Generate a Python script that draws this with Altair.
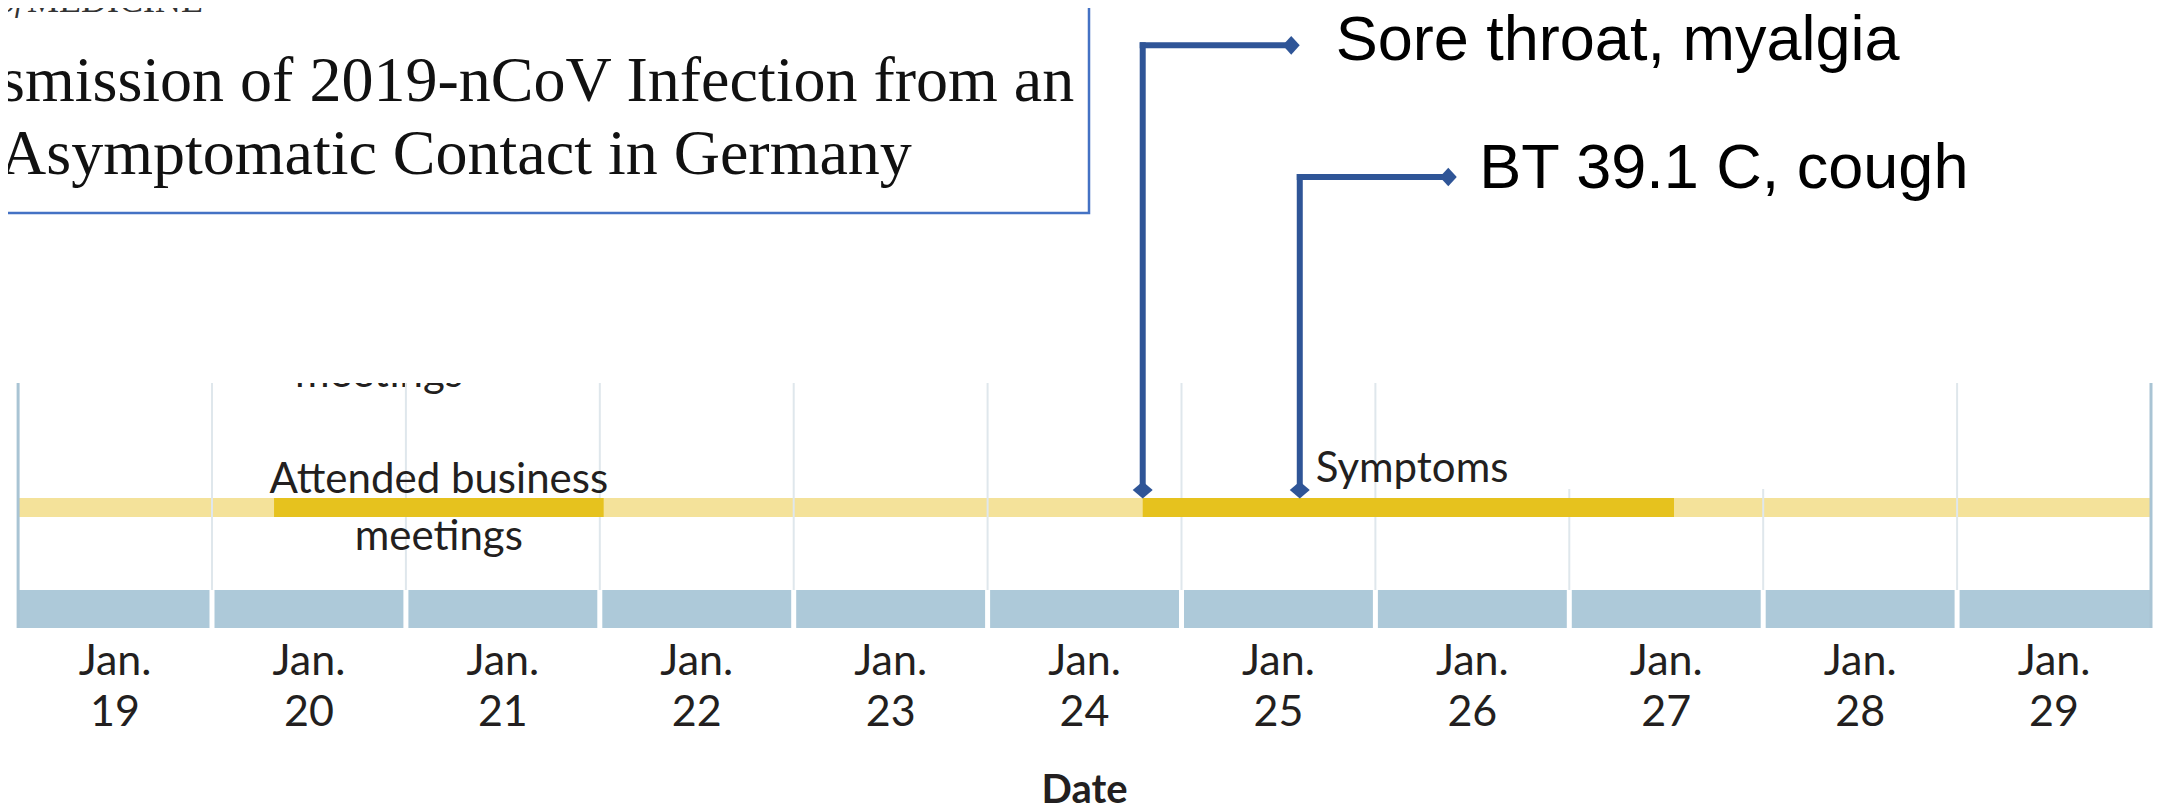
import altair as alt
import pandas as pd

# ------------------------------------------------------------------ data
days = list(range(19, 30))                       # Jan. 19 ... Jan. 29
month_label = "Jan."
period_labels = ["Attended business\nmeetings", "Symptoms"]
period_starts = [19.82, 24.30]                   # day of January
period_ends = [21.52, 27.04]
annotation_texts = ["Sore throat, myalgia", "BT 39.1 C, cough"]
annotation_days = [24.30, 25.11]
title_lines = ["smission of 2019-nCoV Infection from an", "Asymptomatic Contact in Germany"]
journal_text = "MEDICINE"
remnant_text = "meetings"
axis_title = "Date"

# ------------------------------------------------------------------ layout / style
W, H = 2146, 799
X_DOMAIN = [18.4479, 29.5155]
XS = alt.Scale(domain=X_DOMAIN, nice=False, zero=False)

DARK_Y = "#E6C21E"
LIGHT_Y = "#F4E29A"
BLUE_BAR = "#ADC9D9"
BORDER = "#A9C4D4"
GRID = "#DFE7EC"
ARROW = "#2F5597"
BOX = "#4472C4"
TXT = "#231F20"
LABEL_FONT = "Lato"

first, last = days[0] - 0.5, days[-1] + 0.5
boundaries = [d + 0.5 for d in days[:-1]]
short_bounds = [26.5, 27.5]

layers = []

# title box (annotation image)
one = pd.DataFrame({"k": [0]})
layers.append(
    alt.Chart(one).mark_rect(fillOpacity=0, stroke=BOX, strokeWidth=2.5, clip=True).encode(
        x=alt.value(-20), x2=alt.value(1081), y=alt.value(-20), y2=alt.value(205)
    )
)
layers.append(
    alt.Chart(pd.DataFrame({"t": [journal_text]})).mark_text(
        font="Liberation Serif", fontSize=36, align="left", baseline="alphabetic",
        color="#333333", clip=True
    ).encode(x=alt.value(19), y=alt.value(4), text="t:N")
)
layers.append(
    alt.Chart(pd.DataFrame({"t": ["of"]})).mark_text(
        font="Liberation Serif", fontSize=30, fontStyle="italic", align="right",
        baseline="alphabetic", color="#333333", clip=True
    ).encode(x=alt.value(15), y=alt.value(4), text="t:N")
)
layers.append(
    alt.Chart(pd.DataFrame({"t": ["\n".join(title_lines)]})).mark_text(
        font="Liberation Serif", fontSize=64, align="left", baseline="alphabetic",
        lineBreak="\n", lineHeight=73, color="#111111", clip=True
    ).encode(x=alt.value(-8), y=alt.value(93), text="t:N")
)

# cut-off label remnant at the top of the timeline panel
layers.append(
    alt.Chart(pd.DataFrame({"t": [remnant_text]})).mark_text(
        font=LABEL_FONT, fontSize=42, align="center", baseline="alphabetic", color=TXT
    ).encode(x=alt.value(371), y=alt.value(379), text="t:N")
)
layers.append(
    alt.Chart(one).mark_rect(color="white").encode(
        x=alt.value(260), x2=alt.value(490), y=alt.value(220), y2=alt.value(375)
    )
)

# timeline background
span = pd.DataFrame({"s": [first], "e": [last]})
layers.append(
    alt.Chart(span).mark_rect(color=LIGHT_Y).encode(
        x=alt.X("s:Q", scale=XS, axis=None), x2="e:Q", y=alt.value(490), y2=alt.value(509)
    )
)
# grid lines
full_b = [b for b in boundaries if b not in short_bounds]
layers.append(
    alt.Chart(pd.DataFrame({"b": full_b})).mark_rule(color=GRID, strokeWidth=2).encode(
        x=alt.X("b:Q", scale=XS, axis=None), y=alt.value(375), y2=alt.value(582)
    )
)
layers.append(
    alt.Chart(pd.DataFrame({"b": short_bounds})).mark_rule(color=GRID, strokeWidth=2).encode(
        x=alt.X("b:Q", scale=XS, axis=None), y=alt.value(481), y2=alt.value(582)
    )
)
# blue day bar with white separators
layers.append(
    alt.Chart(span).mark_rect(color=BLUE_BAR).encode(
        x=alt.X("s:Q", scale=XS, axis=None), x2="e:Q", y=alt.value(582), y2=alt.value(620)
    )
)
layers.append(
    alt.Chart(pd.DataFrame({"b": boundaries})).mark_rule(color="white", strokeWidth=5).encode(
        x=alt.X("b:Q", scale=XS, axis=None), y=alt.value(582), y2=alt.value(620)
    )
)
# panel borders
layers.append(
    alt.Chart(pd.DataFrame({"b": [first, last]})).mark_rule(color=BORDER, strokeWidth=3).encode(
        x=alt.X("b:Q", scale=XS, axis=None), y=alt.value(375), y2=alt.value(620)
    )
)
# periods
periods = pd.DataFrame({"label": period_labels, "s": period_starts, "e": period_ends})
layers.append(
    alt.Chart(periods).mark_rect(color=DARK_Y).encode(
        x=alt.X("s:Q", scale=XS, axis=None), x2="e:Q", y=alt.value(490), y2=alt.value(509)
    )
)
layers.append(
    alt.Chart(periods.iloc[[0]]).transform_calculate(mid="(datum.s + datum.e) / 2").mark_text(
        font=LABEL_FONT, fontSize=42, align="center", baseline="alphabetic",
        lineBreak="\n", lineHeight=57, color=TXT
    ).encode(x=alt.X("mid:Q", scale=XS, axis=None), y=alt.value(485), text="label:N")
)
layers.append(
    alt.Chart(periods.iloc[[1]]).mark_text(
        font=LABEL_FONT, fontSize=42, align="left", baseline="alphabetic", dx=173, color=TXT
    ).encode(x=alt.X("s:Q", scale=XS, axis=None), y=alt.value(474), text="label:N")
)

# day labels
day_df = pd.DataFrame({"d": days, "label": [f"{month_label}\n{d}" for d in days]})
layers.append(
    alt.Chart(day_df).mark_text(
        font=LABEL_FONT, fontSize=43, align="center", baseline="alphabetic",
        lineBreak="\n", lineHeight=51, color=TXT
    ).encode(x=alt.X("d:Q", scale=XS, axis=None), y=alt.value(667), text="label:N")
)
layers.append(
    alt.Chart(pd.DataFrame({"m": [(first + last) / 2], "t": [axis_title]})).mark_text(
        font=LABEL_FONT, fontSize=40, fontWeight="bold", align="center",
        baseline="alphabetic", color=TXT
    ).encode(x=alt.X("m:Q", scale=XS, axis=None), y=alt.value(795), text="t:N")
)

# elbow arrows
ARM_Y = [37.3, 169]
TEXT_Y = [52, 180]
TEXT_DX = [193, 179.5]
for i, (txt, day) in enumerate(zip(annotation_texts, annotation_days)):
    a = pd.DataFrame({"d": [day], "t": [txt]})
    xenc = alt.X("d:Q", scale=XS, axis=None)
    layers.append(
        alt.Chart(a).mark_rule(color=ARROW, strokeWidth=6, strokeCap="square").encode(
            x=xenc, y=alt.value(ARM_Y[i]), y2=alt.value(478)
        )
    )
    layers.append(
        alt.Chart(a).mark_rule(color=ARROW, strokeWidth=6, strokeCap="square", x2Offset=146).encode(
            x=xenc, x2="d:Q", y=alt.value(ARM_Y[i])
        )
    )
    layers.append(
        alt.Chart(a).mark_point(
            shape="M-1,0L0,-1.1L1,0L0,1.1Z", filled=True, size=289, opacity=1,
            color=ARROW, strokeWidth=0, xOffset=148.5
        ).encode(x=xenc, y=alt.value(ARM_Y[i]))
    )
    layers.append(
        alt.Chart(a).mark_point(
            shape="M-1,0L0,-0.85L1,0L0,0.85Z", filled=True, size=400, opacity=1,
            color=ARROW, strokeWidth=0
        ).encode(x=xenc, y=alt.value(482))
    )
    layers.append(
        alt.Chart(a).mark_text(
            font="Liberation Sans", fontSize=63, align="left", baseline="alphabetic",
            dx=TEXT_DX[i], color="#000000"
        ).encode(x=xenc, y=alt.value(TEXT_Y[i]), text="t:N")
    )

chart = alt.layer(*layers).properties(
    width=W, height=H, padding=0,
    autosize=alt.AutoSizeParams(type="none"),
    background="white",
).configure_view(stroke=None)

chart.save("out.html", embed_options={"renderer": "svg", "actions": False})
